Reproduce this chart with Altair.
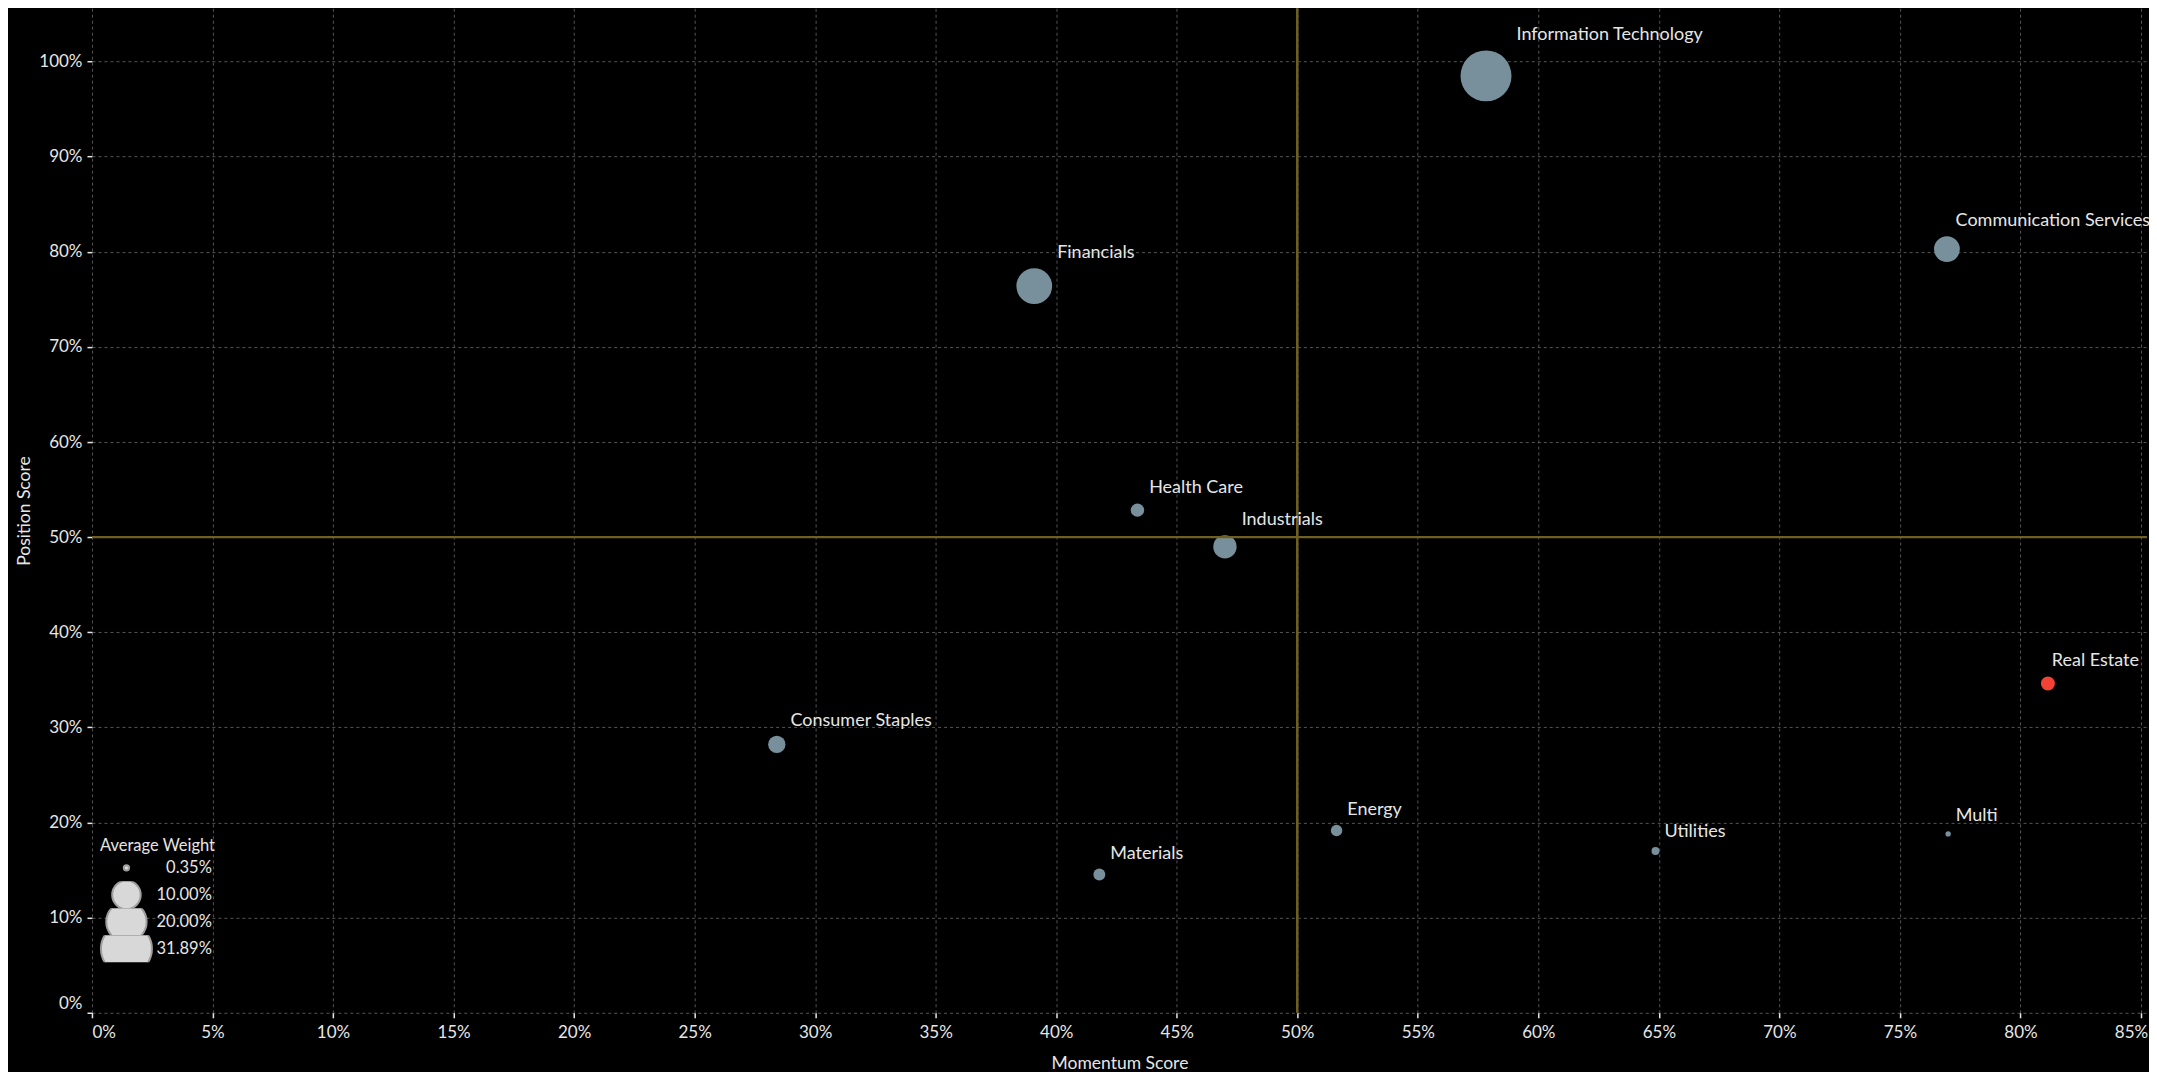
import altair as alt
import pandas as pd
import numpy as np

# ---- data ----
sectors = ["Information Technology", "Communication Services", "Financials", "Health Care",
           "Industrials", "Real Estate", "Consumer Staples", "Energy", "Materials",
           "Utilities", "Multi"]
momentum = [0.5783, 0.7695, 0.3909, 0.4337, 0.4700, 0.8114, 0.2841, 0.5163, 0.4179, 0.6486, 0.7700]
position = [0.9849, 0.8028, 0.7639, 0.5284, 0.4898, 0.3462, 0.2821, 0.1916, 0.1453, 0.1700, 0.1880]
weight = [0.3189, 0.0820, 0.1570, 0.0220, 0.0670, 0.0240, 0.0370, 0.0160, 0.0175, 0.0078, 0.0035]
highlight = "Real Estate"
x_ticks = [i * 0.05 for i in range(18)]
y_ticks = [i * 0.1 for i in range(11)]
legend_values = [0.0035, 0.10, 0.20, 0.3189]

# ---- layout ----
W, H = 2056, 1005
XMAX, YMAX = 0.8525, 1.056
MAX_SIZE = 51.0 ** 2          # vega circle: diameter = sqrt(size)
FONT = "Lato"

px_x = W / XMAX
px_y = H / YMAX

df = pd.DataFrame({"sector": sectors, "momentum": momentum, "position": position, "weight": weight})
df["group"] = np.where(df["sector"] == highlight, "highlight", "base")
radius = np.sqrt(df["weight"] / max(weight) * MAX_SIZE) / 2
cx = df["momentum"] * px_x
est_w = df["sector"].str.len() * 8.75
lab_px = np.minimum(cx + radius + 5, W + 1 - est_w)
df["lx"] = lab_px / px_x
df["ly"] = df["position"] + (radius + 15) / px_y

xscale = alt.Scale(domain=[0, XMAX], nice=False, zero=False)
yscale = alt.Scale(domain=[0, YMAX], nice=False, zero=False)

xaxis = alt.Axis(values=x_ticks, format=".0%", title="Momentum Score", grid=True,
                 titleX=W / 2, titleY=56, titleBaseline="alphabetic", labelPadding=7,
                 labelFlush=True,
                 labelOffset={"condition": {"test": "datum.value > 0.84", "value": -10}, "value": 0})
yaxis = alt.Axis(values=y_ticks, format=".0%", title="Position Score", grid=True,
                 titleX=-62, titleY=H / 2, titleBaseline="alphabetic", labelPadding=5,
                 labelFlush=True)

points = alt.Chart(df).mark_circle(opacity=1, strokeWidth=0).encode(
    x=alt.X("momentum:Q", scale=xscale, axis=xaxis),
    y=alt.Y("position:Q", scale=yscale, axis=yaxis),
    size=alt.Size("weight:Q", scale=alt.Scale(domain=[0, max(weight)], range=[0, MAX_SIZE]),
                  legend=alt.Legend(orient="none", legendX=8, legendY=830, title="Average Weight",
                                    values=legend_values, format=".2%", clipHeight=27,
                                    labelAlign="right", labelOffset=59, symbolType="circle",
                                    padding=0, titlePadding=0, rowPadding=0,
                                    titleFontWeight="normal",
                                    titleFont=FONT, titleFontSize=16.5, titleColor="#e6e6e6",
                                    labelFont=FONT, labelFontSize=16.5, labelColor="#e6e6e6",
                                    symbolFillColor="#d8d8d8", symbolStrokeColor="#9e9e9e",
                                    symbolStrokeWidth=2, symbolOpacity=1)),
    color=alt.Color("group:N", scale=alt.Scale(domain=["base", "highlight"],
                                               range=["#78909c", "#f44336"]), legend=None),
)

labels = alt.Chart(df).mark_text(align="left", baseline="middle", font=FONT, fontSize=18,
                                 color="#e6e6e6").encode(
    x=alt.X("lx:Q", scale=xscale),
    y=alt.Y("ly:Q", scale=yscale),
    text="sector:N",
)

mid = pd.DataFrame({"v": [0.5]})
vrule = alt.Chart(mid).mark_rule(color="#6e6022", strokeWidth=2.5).encode(x=alt.X("v:Q", scale=xscale))
hrule = alt.Chart(mid).mark_rule(color="#6e6022", strokeWidth=2.2).encode(y=alt.Y("v:Q", scale=yscale))

chart = alt.layer(points, vrule, hrule, labels).properties(
    width=W, height=H,
    autosize=alt.AutoSizeParams(type="none"),
    padding={"left": 84, "top": 0, "right": 2, "bottom": 59},
    background="#000000",
).configure_view(stroke=None).configure_axis(
    domain=False,
    gridColor="#555555", gridDash=[3, 3], gridWidth=1,
    tickColor="#e6e6e6", tickSize=5, tickWidth=1.5,
    labelFont=FONT, labelFontSize=17, labelColor="#e6e6e6",
    titleFont=FONT, titleFontSize=17.5, titleColor="#e6e6e6", titleFontWeight="normal",
)

chart.save("out.html", embed_options={"renderer": "svg", "actions": False})
